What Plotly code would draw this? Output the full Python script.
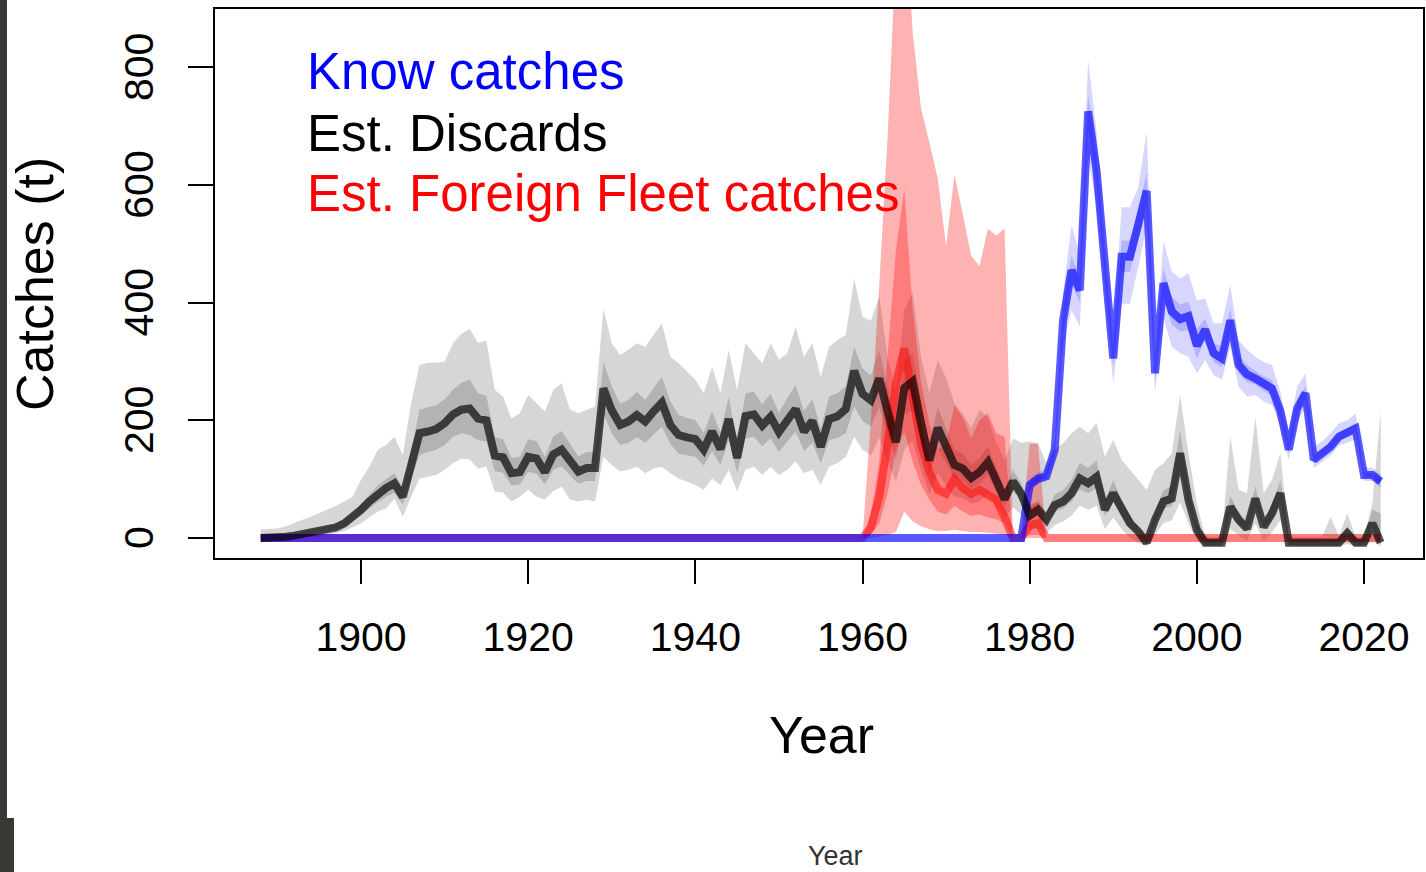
import plotly.graph_objects as go

W, H = 1426, 872

# ---------------- data ----------------
years = list(range(1888, 2023))

# Est. discards (t): mean and two uncertainty bands
discards = [0, 0, 0, 2, 4, 7, 10, 13, 16, 18,
            25, 35, 48, 62, 75, 85, 93, 70, 124, 178,
            181, 185, 195, 210, 218, 220, 203, 200, 140, 137,
            110, 112, 138, 135, 112, 142, 150, 133, 113, 119,
            119, 254, 217, 192, 198, 209, 198, 215, 230, 192,
            175, 171, 168, 150, 181, 151, 202, 136, 207, 210,
            191, 206, 180, 200, 219, 181, 199, 155, 202, 207,
            219, 284, 245, 234, 271, 215, 163, 255, 266, 195,
            132, 187, 155, 124, 118, 102, 112, 129, 98, 66,
            96, 75, 38, 48, 31, 56, 62, 76, 101, 93,
            104, 48, 76, 48, 25, 11, -8, 31, 62, 67,
            144, 65, 14, -8, -8, -8, 53, 31, 16, 67,
            19, 42, 76, -8, -8, -8, -8, -8, -8, -8,
            8, -8, -8, 25, -8]
discards_hi95 = [15, 15, 16, 20, 26, 31, 36, 42, 48, 55,
                 62, 70, 99, 121, 150, 158, 172, 141, 230, 294,
                 298, 298, 300, 331, 347, 355, 332, 335, 252, 240,
                 203, 212, 243, 229, 215, 252, 263, 218, 212, 218,
                 223, 390, 331, 311, 320, 331, 325, 345, 365, 308,
                 297, 283, 269, 246, 291, 246, 320, 252, 331, 314,
                 297, 331, 303, 314, 359, 308, 331, 274, 325, 337,
                 345, 441, 376, 369, 411, 308, 248, 387, 417, 308,
                 247, 302, 272, 229, 211, 187, 217, 205, 162, 132,
                 169, 162, 164, 161, 127, 150, 161, 178, 189, 178,
                 195, 138, 167, 133, 116, 99, 82, 116, 127, 144,
                 243, 144, 59, 2, 2, 2, 172, 82, 76, 206,
                 76, 99, 144, 2, 2, 2, 2, 2, 36, 2,
                 42, 2, 2, 59, 217]
discards_lo95 = [-3, -3, -3, -1, 0, 1, 2, 3, 5, 8,
                 12, 18, 25, 35, 45, 50, 67, 36, 70, 101,
                 104, 107, 116, 127, 135, 133, 118, 121, 79, 77,
                 62, 70, 82, 70, 65, 80, 87, 65, 62, 65,
                 62, 138, 124, 113, 116, 121, 110, 118, 121, 110,
                 101, 96, 90, 82, 101, 90, 116, 79, 116, 121,
                 107, 121, 107, 116, 130, 110, 116, 90, 121, 127,
                 138, 172, 150, 140, 170, 130, 95, 150, 165, 115,
                 75, 110, 90, 70, 68, 58, 62, 75, 55, 35,
                 52, 40, 12, 18, 8, 22, 28, 38, 55, 48,
                 55, 15, 35, 15, 0, -8, -14, 5, 25, 30,
                 60, 25, -5, -14, -14, -14, 15, 5, -5, 25,
                 -5, 10, 30, -14, -14, -14, -14, -14, -14, -14,
                 -10, -14, -14, -5, -14]
discards_hi50 = [2, 2, 3, 5, 7, 10, 14, 17, 21, 24,
                 32, 43, 58, 74, 89, 100, 110, 85, 148, 218,
                 222, 226, 236, 252, 264, 269, 246, 242, 172, 168,
                 136, 138, 168, 165, 138, 172, 182, 160, 139, 146,
                 146, 300, 258, 228, 235, 248, 235, 255, 274, 232,
                 209, 204, 200, 179, 215, 180, 240, 162, 245, 249,
                 227, 245, 213, 238, 260, 216, 236, 186, 241, 246,
                 258, 325, 288, 276, 320, 256, 196, 302, 315, 233,
                 160, 222, 186, 150, 143, 124, 136, 155, 120, 83,
                 116, 93, 52, 64, 44, 74, 81, 98, 128, 119,
                 132, 64, 98, 64, 38, 20, 0, 44, 81, 88,
                 184, 85, 24, 0, 0, 0, 72, 44, 26, 88,
                 29, 57, 98, 0, 0, 0, 0, 0, 0, 0,
                 16, 0, 0, 48, 42]
discards_lo50 = [-2, -2, -2, 0, 2, 5, 7, 10, 12, 14,
                 19, 28, 38, 50, 61, 70, 77, 57, 102, 140,
                 146, 150, 158, 172, 178, 175, 166, 164, 114, 111,
                 89, 91, 112, 109, 91, 116, 122, 106, 92, 97,
                 97, 212, 178, 158, 162, 171, 162, 176, 189, 160,
                 143, 140, 138, 123, 148, 124, 166, 111, 169, 172,
                 156, 169, 146, 164, 180, 148, 162, 127, 166, 170,
                 178, 223, 199, 190, 222, 176, 134, 209, 218, 160,
                 108, 153, 127, 102, 97, 84, 92, 106, 80, 54,
                 79, 61, 30, 38, 24, 45, 50, 62, 83, 76,
                 85, 38, 62, 38, 18, 6, -12, 24, 50, 54,
                 118, 52, 9, -12, -12, -12, 42, 24, 11, 54,
                 14, 33, 62, -12, -12, -12, -12, -12, -12, -12,
                 4, -12, -12, 18, -12]

# Est. foreign fleet catches (t), non-zero period 1960-1982
foreign_years = list(range(1960, 1983))
foreign_active = [0, 18, 70, 160, 262, 322, 235, 160, 112, 82, 75, 100,
                  85, 75, 82, 72, 65, 35, 0, 0, 22, 25, 0]
foreign_hi95 = [0, 200, 430, 680, 1000, 1100, 860, 730, 672, 611, 496, 617,
                550, 480, 462, 526, 514, 526, 0, 0, 160, 160, 0]
foreign_lo95 = [0, 0, 2, 5, 10, 45, 28, 20, 15, 12, 12, 14,
                12, 10, 10, 9, 8, 6, 0, 0, 0, 0, 0]
foreign_hi50 = [0, 40, 130, 310, 490, 593, 390, 265, 195, 150, 160, 225,
                205, 170, 200, 212, 178, 172, 0, 0, 58, 60, 0]
foreign_lo50 = [0, 5, 25, 75, 150, 180, 130, 90, 65, 45, 40, 55,
                45, 38, 40, 35, 32, 25, 0, 0, 5, 5, 0]
foreign = [0] * 72 + foreign_active + [0] * 40

# Known catches (t), non-zero period 1980-2022 (band starts from 0 in 1979)
known_years = list(range(1979, 2023))
known_active = [90, 101, 105, 150, 370, 455, 421, 725, 625, 461,
                305, 478, 478, 533, 590, 280, 433, 385, 372, 377,
                327, 354, 314, 305, 370, 294, 278, 271, 262, 254,
                215, 150, 220, 246, 133, 144, 155, 172, 178, 186,
                107, 107, 96]
known_hi95 = [0, 100, 112, 116, 166, 416, 532, 483, 812, 690, 510,
              348, 562, 562, 597, 690, 313, 504, 453, 441, 450,
              404, 407, 365, 365, 430, 336, 320, 308, 299, 294,
              249, 181, 257, 280, 155, 165, 178, 195, 200, 212,
              120, 120, 108]
known_lo95 = [0, 82, 92, 95, 137, 325, 387, 359, 648, 565, 415,
              262, 398, 398, 461, 529, 246, 376, 325, 314, 308,
              280, 302, 277, 269, 325, 257, 240, 243, 232, 226,
              189, 133, 198, 220, 119, 130, 140, 157, 162, 168,
              97, 97, 86]
known_hi50 = [0, 94, 105, 109, 156, 386, 480, 443, 755, 648, 478,
              320, 505, 505, 556, 622, 292, 458, 410, 397, 402,
              355, 373, 331, 326, 391, 310, 294, 284, 275, 268,
              227, 161, 233, 258, 141, 151, 163, 180, 186, 195,
              111, 111, 100]
known_lo50 = [0, 87, 98, 102, 145, 352, 432, 400, 695, 603, 446,
              290, 452, 452, 510, 565, 268, 410, 363, 351, 353,
              305, 337, 299, 290, 351, 280, 265, 261, 250, 242,
              205, 144, 212, 236, 128, 139, 150, 166, 172, 180,
              103, 103, 92]
known = [0] * 92 + known_active

x_ticks = [1900, 1920, 1940, 1960, 1980, 2000, 2020]
y_ticks = [0, 200, 400, 600, 800]
legend_labels = ["Know catches", "Est. Discards", "Est. Foreign Fleet catches"]

FONT = "Liberation Sans, Arial, Helvetica, sans-serif"


def band(x, lo, hi, color):
    return go.Scatter(x=list(x) + list(x)[::-1], y=list(hi) + list(lo)[::-1],
                      mode="lines", fill="toself", fillcolor=color,
                      line=dict(width=0), hoverinfo="skip", showlegend=False)


def line(x, y, color):
    return go.Scatter(x=x, y=y, mode="lines",
                      line=dict(color=color, width=8),
                      hoverinfo="skip", showlegend=False)


fig = go.Figure()
gray = "rgba(0,0,0,0.16)"
pink = "rgba(255,0,0,0.30)"
lblue = "rgba(0,0,255,0.16)"
fig.add_trace(band(years, discards_lo95, discards_hi95, gray))
fig.add_trace(band(years, discards_lo50, discards_hi50, gray))
fig.add_trace(band(foreign_years, foreign_lo95, foreign_hi95, pink))
fig.add_trace(band(foreign_years, foreign_lo50, foreign_hi50, pink))
fig.add_trace(band(known_years, known_lo95, known_hi95, lblue))
fig.add_trace(band(known_years, known_lo50, known_hi50, lblue))
fig.add_trace(line(years, foreign, "rgba(255,0,0,0.5)"))
fig.add_trace(line(years, known, "rgba(0,0,255,0.65)"))
fig.add_trace(line(years, discards, "rgba(0,0,0,0.68)"))

x0, x1 = 215, 1423
y0, y1 = 9, 558

fig.update_layout(
    width=W, height=H,
    margin=dict(l=0, r=0, t=0, b=0),
    paper_bgcolor="white", plot_bgcolor="white",
    font=dict(family=FONT, color="black"),
    showlegend=False,
    xaxis=dict(domain=[x0 / W, x1 / W], range=[1882.53, 2027.06],
               tickmode="array", tickvals=x_ticks,
               ticktext=[str(v) for v in x_ticks],
               ticks="outside", ticklen=24, tickwidth=2, tickcolor="black",
               showline=True, linecolor="black", linewidth=2, mirror=True,
               showgrid=False, zeroline=False,
               tickfont=dict(size=41, family=FONT, color="black"),
               ticklabelstandoff=18),
    yaxis=dict(domain=[1 - y1 / H, 1 - y0 / H], range=[-34, 899],
               tickmode="array", tickvals=y_ticks,
               ticktext=[str(v) + "\u00a0" for v in y_ticks], tickangle=-90,
               ticks="outside", ticklen=25, tickwidth=2, tickcolor="black",
               showline=True, linecolor="black", linewidth=2, mirror=True,
               showgrid=False, zeroline=False,
               tickfont=dict(size=41, family=FONT, color="black"),
               ticklabelstandoff=19),
)

# dark frame strip on the left edge of the screenshot
strip = "#393835"
fig.add_shape(type="rect", xref="paper", yref="paper",
              x0=0, x1=7 / W, y0=1 - 818 / H, y1=1,
              fillcolor=strip, line=dict(width=0), layer="above")
fig.add_shape(type="rect", xref="paper", yref="paper",
              x0=0, x1=14 / W, y0=0, y1=1 - 818 / H,
              fillcolor=strip, line=dict(width=0), layer="above")

ann = []
# axis titles
ann.append(dict(text="Year", x=821 / W, y=1 - 735 / H, xref="paper", yref="paper",
                xanchor="center", yanchor="middle", showarrow=False,
                font=dict(size=52, family=FONT, color="black")))
ann.append(dict(text="Catches (t)", x=35 / W, y=1 - 284 / H, xref="paper", yref="paper",
                xanchor="center", yanchor="middle", showarrow=False, textangle=-90,
                font=dict(size=52, family=FONT, color="black")))
# in-plot legend texts
for lab, col, yy in zip(legend_labels, ["#0000ff", "#000000", "#ff0000"], [72, 133, 194]):
    ann.append(dict(text=lab, x=305 / W, y=1 - yy / H, xref="paper", yref="paper",
                    xanchor="left", yanchor="middle", showarrow=False,
                    font=dict(size=51, family=FONT, color=col)))
# caption below the picture
ann.append(dict(text="Year", x=835 / W, y=1 - 856 / H, xref="paper", yref="paper",
                xanchor="center", yanchor="middle", showarrow=False,
                font=dict(size=27, family=FONT, color="#333333")))
fig.update_layout(annotations=ann)

fig.write_html("out.html", config={"displayModeBar": False},
               post_script="document.body.style.margin='0';document.body.style.overflow='hidden';")
